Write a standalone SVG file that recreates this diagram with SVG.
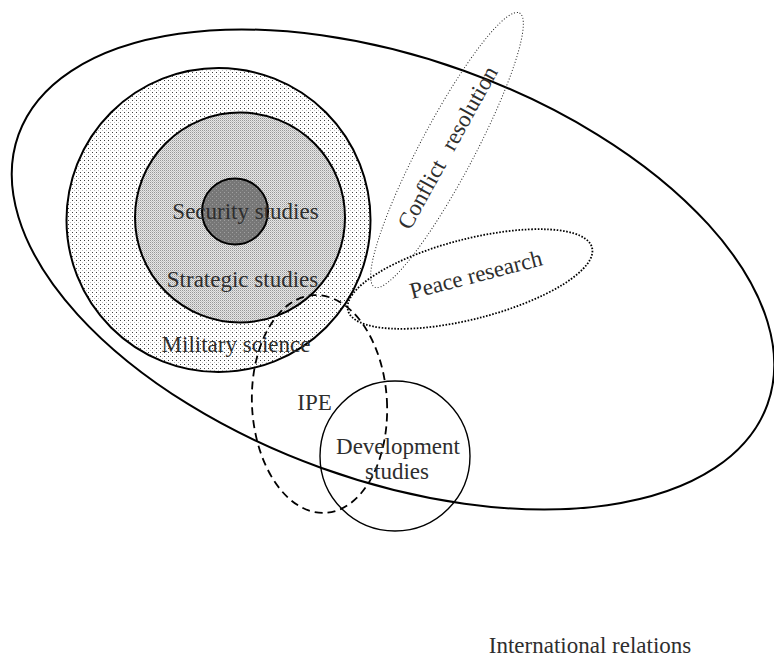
<svg xmlns="http://www.w3.org/2000/svg" width="774" height="659" viewBox="0 0 774 659">
<defs>
<pattern id="pMil" width="4" height="4" patternUnits="userSpaceOnUse">
<rect width="4" height="4" fill="#ffffff"/>
<rect x="0" y="0" width="1" height="1" fill="#404040"/>
<rect x="2" y="2" width="1" height="1" fill="#bdbdbd"/>
</pattern>
<pattern id="pStr" width="2" height="2" patternUnits="userSpaceOnUse">
<rect width="2" height="2" fill="#e6e6e6"/>
<rect x="0" y="0" width="1" height="1" fill="#979797"/>
<rect x="1" y="1" width="1" height="1" fill="#c2c2c2"/>
</pattern>
<pattern id="pSec" width="4" height="4" patternUnits="userSpaceOnUse">
<rect width="4" height="4" fill="#777777"/>
<rect x="0" y="0" width="1" height="1" fill="#a0a0a0"/>
<rect x="2" y="2" width="1" height="1" fill="#8e8e8e"/>
</pattern>
</defs>
<style>
.lbl{font-family:"Liberation Serif","Times New Roman",serif;font-size:23px;fill:#2e2e2e}
.mid{text-anchor:middle}
.solid{fill:none;stroke:#000;stroke-width:2}
</style>
<rect width="774" height="659" fill="#ffffff"/>

<g id="international-relations">
<ellipse cx="393" cy="269.5" rx="398" ry="211" transform="rotate(19.8 393 269.5)" class="solid"/>
</g>

<g id="military-science">
<circle cx="218.5" cy="220" r="152" fill="url(#pMil)" stroke="#000" stroke-width="2"/>
</g>
<g id="strategic-studies">
<circle cx="240" cy="217.5" r="105" fill="url(#pStr)" stroke="#000" stroke-width="2"/>
</g>
<g id="security-studies">
<circle cx="235" cy="211.5" r="33" fill="url(#pSec)" stroke="#000" stroke-width="2"/>
</g>

<g id="ipe">
<ellipse cx="319.5" cy="404" rx="67.5" ry="109" transform="rotate(-3 319.5 404)" fill="none" stroke="#000" stroke-width="1.8" stroke-dasharray="8 5"/>
</g>
<g id="conflict-resolution">
<ellipse cx="447" cy="150" rx="155" ry="27" transform="rotate(-62.1 447 150)" fill="none" stroke="#222" stroke-width="1" stroke-dasharray="1 2"/>
</g>
<g id="peace-research">
<ellipse cx="470" cy="279" rx="126" ry="40" transform="rotate(-14.4 470 279)" fill="none" stroke="#000" stroke-width="1.8" stroke-dasharray="1.6 1.6"/>
</g>
<g id="development-studies">
<circle cx="395" cy="456" r="75" fill="none" stroke="#000" stroke-width="1.4"/>
</g>

<g id="labels">
<text class="lbl mid" x="245.5" y="219">Security studies</text>
<text class="lbl mid" x="242.5" y="287">Strategic studies</text>
<text class="lbl mid" x="236" y="352">Military science</text>
<text class="lbl mid" x="314.5" y="410">IPE</text>
<text class="lbl mid" x="398" y="454">Development</text>
<text class="lbl mid" x="397" y="479">studies</text>
<text class="lbl" x="412" y="299" transform="rotate(-14.5 412 299)">Peace research</text>
<text class="lbl" x="410" y="231" transform="rotate(-61 410 231)" word-spacing="9">Conflict resolution</text>
<text class="lbl mid" x="590" y="653">International relations</text>
</g>
</svg>
